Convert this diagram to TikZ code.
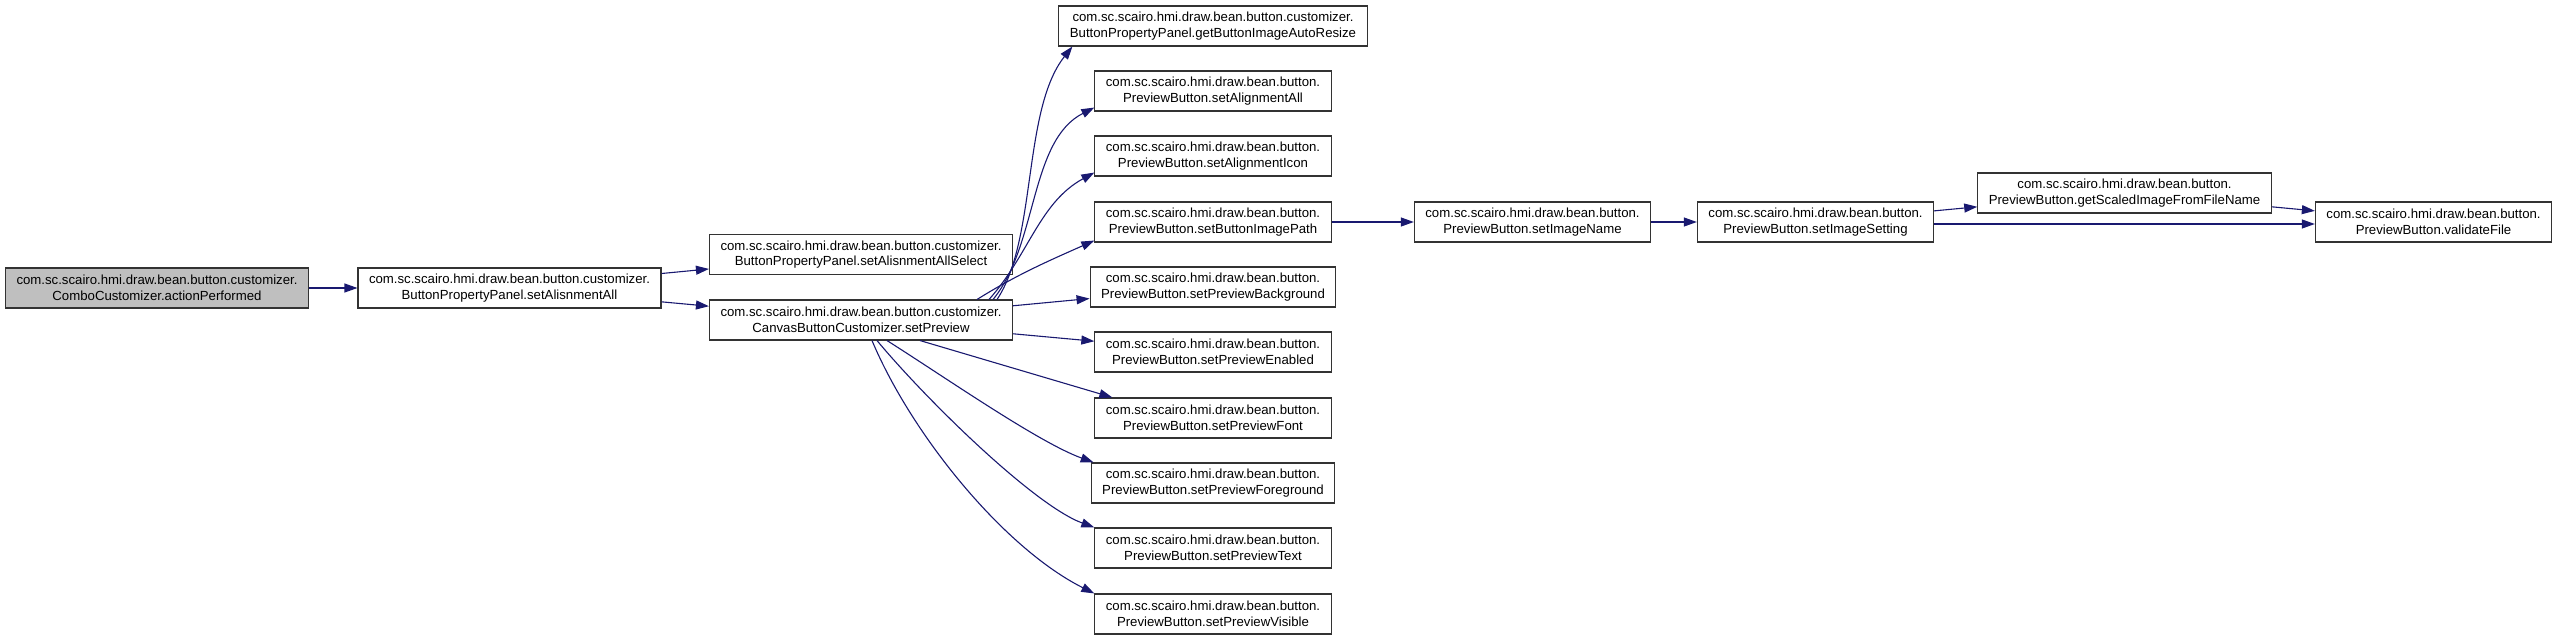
\documentclass[tikz,border=0pt]{standalone}
\usepackage{fontspec}
\setmainfont{Liberation Sans}
\usetikzlibrary{positioning,arrows.meta}
\definecolor{callblue}{HTML}{191970}
\definecolor{rootgray}{HTML}{BFBFBF}

\begin{document}
\begin{tikzpicture}[x=1pt, y=-1pt,
      fn/.style={draw=black!80, line width=1.1pt, fill=white, align=center,
                 minimum height=40pt, inner xsep=11pt, inner ysep=2pt,
                 font=\fontsize{13.2}{15.5}\selectfont},
      root/.style={fn, fill=rootgray},
      call/.style={draw=callblue, line width=1.1pt, -{Triangle[length=13pt, width=9pt]}}]
      \useasboundingbox (0,0) rectangle (2557,640);
      \node[root] (act) at (157,288) {com.sc.scairo.hmi.draw.bean.button.customizer.\\ComboCustomizer.actionPerformed};
      \node[fn] (setAll) at (509.5,288) {com.sc.scairo.hmi.draw.bean.button.customizer.\\ButtonPropertyPanel.setAlisnmentAll};
      \node[fn] (setSel) at (861,254.5) {com.sc.scairo.hmi.draw.bean.button.customizer.\\ButtonPropertyPanel.setAlisnmentAllSelect};
      \node[fn] (setPrev) at (861,320) {com.sc.scairo.hmi.draw.bean.button.customizer.\\CanvasButtonCustomizer.setPreview};
      \node[fn] (getAuto) at (1213,26) {com.sc.scairo.hmi.draw.bean.button.customizer.\\ButtonPropertyPanel.getButtonImageAutoResize};
      \node[fn] (alignAll) at (1213,91) {com.sc.scairo.hmi.draw.bean.button.\\PreviewButton.setAlignmentAll};
      \node[fn] (alignIcon) at (1213,156) {com.sc.scairo.hmi.draw.bean.button.\\PreviewButton.setAlignmentIcon};
      \node[fn] (imgPath) at (1213,222) {com.sc.scairo.hmi.draw.bean.button.\\PreviewButton.setButtonImagePath};
      \node[fn] (prevBg) at (1213,287) {com.sc.scairo.hmi.draw.bean.button.\\PreviewButton.setPreviewBackground};
      \node[fn] (prevEn) at (1213,352) {com.sc.scairo.hmi.draw.bean.button.\\PreviewButton.setPreviewEnabled};
      \node[fn] (prevFont) at (1213,418) {com.sc.scairo.hmi.draw.bean.button.\\PreviewButton.setPreviewFont};
      \node[fn] (prevFg) at (1213,483) {com.sc.scairo.hmi.draw.bean.button.\\PreviewButton.setPreviewForeground};
      \node[fn] (prevText) at (1213,548) {com.sc.scairo.hmi.draw.bean.button.\\PreviewButton.setPreviewText};
      \node[fn] (prevVis) at (1213,614) {com.sc.scairo.hmi.draw.bean.button.\\PreviewButton.setPreviewVisible};
      \node[fn] (imgName) at (1532.5,222) {com.sc.scairo.hmi.draw.bean.button.\\PreviewButton.setImageName};
      \node[fn] (imgSet) at (1815.5,222) {com.sc.scairo.hmi.draw.bean.button.\\PreviewButton.setImageSetting};
      \node[fn] (scaled) at (2124.5,193) {com.sc.scairo.hmi.draw.bean.button.\\PreviewButton.getScaledImageFromFileName};
      \node[fn] (validF) at (2433.5,222) {com.sc.scairo.hmi.draw.bean.button.\\PreviewButton.validateFile};

      \draw[call] (act) -- (setAll);
      \draw[call] (setAll) -- (setSel);
      \draw[call] (setAll) -- (setPrev);
      \draw[call] ([xshift=-16pt]setPrev.north east) .. controls +(40,-60) and +(-50,63) .. ([xshift=14pt]getAuto.south west);
      \draw[call] ([xshift=-20pt]setPrev.north east) .. controls +(45,-55) and +(-65,33) .. ([yshift=4pt]alignAll.south west);
      \draw[call] ([xshift=-24pt]setPrev.north east) .. controls +(40,-45) and +(-55,30) .. ([yshift=4pt]alignIcon.south west);
      \draw[call] ([xshift=-36pt]setPrev.north east) .. controls +(40,-25) and +(-45,20) .. ([yshift=2pt]imgPath.south west);
      \draw[call] (setPrev) -- (prevBg);
      \draw[call] (setPrev) -- (prevEn);
      \draw[call] ([xshift=59pt]setPrev.south) -- ([xshift=18pt]prevFont.north west);
      \draw[call] ([xshift=26pt]setPrev.south) .. controls +(60,38) and +(-55,-20) .. ([xshift=3pt]prevFg.north west);
      \draw[call] ([xshift=16pt]setPrev.south) .. controls +(50,60) and +(-60,-22) .. (prevText.north west);
      \draw[call] ([xshift=11pt]setPrev.south) .. controls +(40,95) and +(-90,-45) .. (prevVis.north west);
      \draw[call] (imgPath) -- (imgName);
      \draw[call] (imgName) -- (imgSet);
      \draw[call] (imgSet) -- (scaled);
      \draw[call] ([yshift=-2pt]imgSet.east) -- ([yshift=-2pt]validF.west);
      \draw[call] (scaled) -- (validF);
    \end{tikzpicture}
\end{document}
